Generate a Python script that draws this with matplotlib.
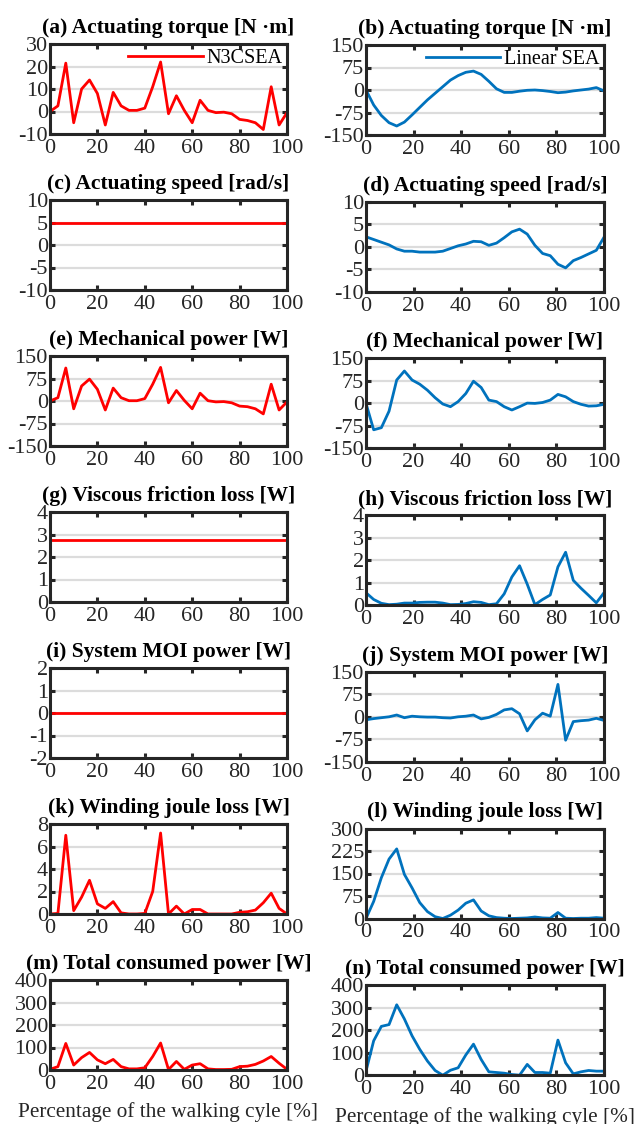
import numpy as np
import matplotlib
matplotlib.use("Agg")
import matplotlib.pyplot as plt

plt.rcParams['font.family'] = ['Liberation Serif', 'DejaVu Serif']
plt.rcParams['axes.unicode_minus'] = False

# gait-cycle samples
x_n3 = np.linspace(0, 100, 31)
x_lin = np.linspace(0, 100, 32)

# ---- N3CSEA ----
n3_torque = [0, 2.5, 21.5, -5, 10, 14, 8, -6, 8.5, 2.5, 0.5, 0.5, 1.5, 11, 22, -1,
             7, 0.5, -5, 5, 0.5, -0.5, -0.3, -1, -3.5, -4, -5, -8, 11, -6, -0.5]
n3_speed = [5] * 31
n3_mech = [0, 11, 110, -26, 50, 73, 39, -30, 43, 11, 1, 1, 8, 56, 112, -6,
           35, 2, -26, 26, 1, -3, -2, -6, -17, -19, -26, -43, 56, -30, -3]
n3_visc = [2.75] * 31
n3_moi = [0] * 31
n3_joule = [0, 0.05, 7, 0.3, 1.5, 3, 0.9, 0.5, 1.1, 0.1, 0, 0, 0.05, 2, 7.2, 0,
            0.7, 0, 0.4, 0.4, 0, 0, 0, 0, 0.15, 0.2, 0.35, 1.0, 1.85, 0.5, 0]
n3_total = [3, 15, 118, 22, 55, 78, 45, 28, 47, 15, 5, 5, 10, 60, 120, 2,
            38, 3, 22, 28, 5, 2, 2, 3, 15, 17, 25, 40, 60, 30, 3]

# ---- Linear SEA ----
lin_torque = [0, -50, -85, -109, -120, -107, -83, -58, -33, -11, 11, 33, 48, 59, 63, 52,
              29, 4, -8, -8, -4, -1, 0, -2, -5, -9, -7, -3, 0, 3, 8, -3]
lin_speed = [2.2, 1.6, 1.0, 0.4, -0.5, -1.0, -1.0, -1.2, -1.2, -1.2, -1.0, -0.4, 0.2, 0.6, 1.2, 1.1,
             0.3, 0.8, 2.0, 3.3, 3.9, 2.8, 0.3, -1.5, -2.0, -3.9, -4.7, -3.1, -2.4, -1.6, -0.8, 2.1]
lin_mech = [0, -88, -81, -26, 78, 108, 78, 64, 44, 19, -2, -11, 6, 33, 74, 53,
            11, 6, -11, -22, -11, 1, 0, 3, 11, 30, 22, 6, -3, -9, -8, -3]
lin_visc = [0.55, 0.25, 0.08, 0.02, 0.04, 0.09, 0.09, 0.12, 0.13, 0.13, 0.09, 0.02, 0.03, 0.07, 0.15, 0.12,
            0.02, 0.06, 0.5, 1.25, 1.75, 0.93, 0.02, 0.25, 0.45, 1.7, 2.35, 1.1, 0.75, 0.43, 0.1, 0.55]
lin_moi = [-10, -6, -3, 0, 6, -3, 2, 0, -1, -1, -3, -4, 0, 2, 6, -7,
           -2, 8, 23, 27, 10, -47, -10, 12, 2, 108, -78, -16, -13, -11, -5, -12]
lin_joule = [0, 57, 136, 198, 232, 147, 102, 53, 23, 6, 0, 11, 28, 51, 62, 25,
             9, 3, 1, 0, 1, 2, 5, 2, 1, 20, 1, 0, 1, 1, 3, 1]
lin_total = [18, 153, 217, 225, 313, 250, 175, 115, 63, 21, 0, 22, 33, 90, 138, 70,
             15, 12, 9, 3, 0, 48, 12, 12, 9, 156, 55, 6, 15, 21, 18, 18]

left_titles = ["(a) Actuating torque [N ·m]", "(c) Actuating speed [rad/s]",
               "(e) Mechanical power [W]", "(g) Viscous friction loss [W]",
               "(i) System MOI power [W]", "(k) Winding joule loss [W]",
               "(m) Total consumed power [W]"]
right_titles = ["(b) Actuating torque [N ·m]", "(d) Actuating speed [rad/s]",
                "(f) Mechanical power [W]", "(h) Viscous friction loss [W]",
                "(j) System MOI power [W]", "(l) Winding joule loss [W]",
                "(n) Total consumed power [W]"]
left_series = [n3_torque, n3_speed, n3_mech, n3_visc, n3_moi, n3_joule, n3_total]
right_series = [lin_torque, lin_speed, lin_mech, lin_visc, lin_moi, lin_joule, lin_total]

left_yticks = [[-10, 0, 10, 20, 30], [-10, -5, 0, 5, 10], [-150, -75, 0, 75, 150],
               [0, 1, 2, 3, 4], [-2, -1, 0, 1, 2], [0, 2, 4, 6, 8], [0, 100, 200, 300, 400]]
right_yticks = [[-150, -75, 0, 75, 150], [-10, -5, 0, 5, 10], [-150, -75, 0, 75, 150],
                [0, 1, 2, 3, 4], [-150, -75, 0, 75, 150], [0, 75, 150, 225, 300],
                [0, 100, 200, 300, 400]]
xticks = [0, 20, 40, 60, 80, 100]

RED = "#ff0000"
BLUE = "#0072bd"
DARK = "#262626"

W, H = 639, 1124
fig = plt.figure(figsize=(W / 100, H / 100), dpi=100)


def make_axes(x0, top, w, h):
    return fig.add_axes([x0 / W, 1 - (top + h) / H, w / W, h / H])


def style(ax, title, yt):
    ax.set_xlim(0, 100)
    ax.set_ylim(yt[0], yt[-1])
    ax.set_xticks(xticks)
    ax.set_yticks(yt)
    ax.grid(axis='y', color='#dcdcdc', linewidth=1.6)
    ax.set_axisbelow(True)
    for s in ax.spines.values():
        s.set_linewidth(2.2)
        s.set_color(DARK)
    ax.tick_params(direction='in', length=3.5, width=2.2, colors=DARK,
                   labelsize=16, top=True, right=True, labelcolor=DARK)
    ax.tick_params(axis='y', pad=1.5)
    ax.tick_params(axis='x', pad=3.5)
    ax.set_title(title, fontsize=15.5, fontweight='bold', pad=8)


for r in range(7):
    axl = make_axes(50, 44 + 156.0 * r, 237, 90)
    axl.plot(x_n3, left_series[r], color=RED, linewidth=2.0, label="N3CSEA")
    style(axl, left_titles[r], left_yticks[r])

    axr = make_axes(366, 45 + 156.7 * r, 238, 90)
    axr.plot(x_lin, right_series[r], color=BLUE, linewidth=2.0, label="Linear SEA")
    style(axr, right_titles[r], right_yticks[r])

    if r == 0:
        for ax in (axl, axr):
            ax.legend(loc='upper right', bbox_to_anchor=(1.025, 1.055), frameon=False,
                      fontsize=14.5, handlelength=3.7, handletextpad=0.2,
                      borderaxespad=0.1)
    if r == 6:
        for ax in (axl, axr):
            ax.set_xlabel("Percentage of the walking cyle [%]", fontsize=15.3,
                          color=DARK, labelpad=6)

fig.savefig("out.png", dpi=100)
